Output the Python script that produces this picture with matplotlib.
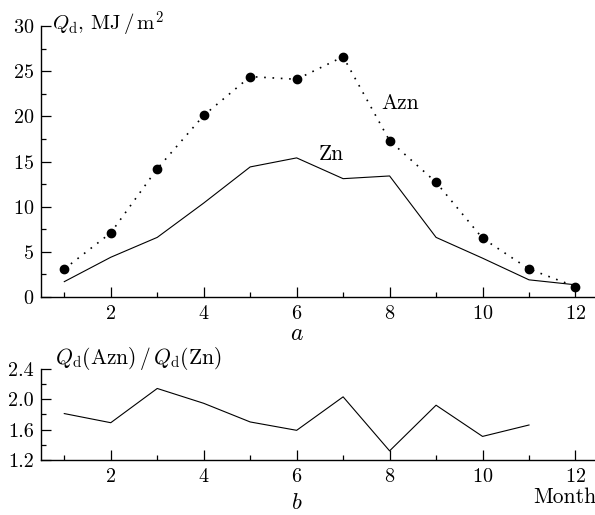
import numpy as np
import matplotlib
matplotlib.use('Agg')
import matplotlib.pyplot as plt
from matplotlib.ticker import MultipleLocator

plt.rcParams['font.family'] = 'serif'
plt.rcParams['font.serif'] = ['cmr10']
plt.rcParams['mathtext.fontset'] = 'cm'
plt.rcParams['axes.formatter.use_mathtext'] = True

# Data
months = np.arange(1, 13)
q_azn = [3.1, 7.1, 14.2, 20.1, 24.4, 24.1, 26.6, 17.3, 12.7, 6.5, 3.1, 1.15]
q_zn = [1.7, 4.4, 6.6, 10.4, 14.4, 15.4, 13.1, 13.4, 6.6, 4.3, 1.9, 1.35]
ratio_months = np.arange(1, 12)
ratio = [1.81, 1.69, 2.14, 1.945, 1.70, 1.59, 2.03, 1.32, 1.92, 1.51, 1.66]

fig = plt.figure(figsize=(5.95, 5.15), dpi=100)
ax1 = fig.add_axes([0.069, 0.4233, 0.931, 0.5262])
ax2 = fig.add_axes([0.069, 0.1068, 0.931, 0.1773])


def style(ax):
    for s in ('top', 'right'):
        ax.spines[s].set_visible(False)
    for s in ('left', 'bottom'):
        ax.spines[s].set_linewidth(1.0)
    ax.set_xlim(0.5, 12.42)
    ax.xaxis.set_major_locator(MultipleLocator(2))
    ax.xaxis.set_minor_locator(MultipleLocator(1))
    ax.tick_params(which='both', direction='in', labelsize=14.5, width=0.9)
    ax.tick_params(which='major', length=7)
    ax.tick_params(which='minor', length=3.6)
    ax.tick_params(axis='x', pad=6)
    ax.tick_params(axis='y', pad=5)


# panel a
style(ax1)
ax1.plot(months, q_zn, color='black', lw=0.8)
ax1.plot(months, q_azn, color='black', lw=1.2, ls=(0, (1, 4)),
         marker='o', ms=6, clip_on=False)
ax1.set_ylim(0, 30)
ax1.yaxis.set_major_locator(MultipleLocator(5))
ax1.yaxis.set_minor_locator(MultipleLocator(2.5))
ax1.text(7.82, 21.5, 'Azn', fontsize=15.5, va='center', ha='left')
ax1.text(6.47, 15.8, 'Zn', fontsize=15.5, va='center', ha='left')
ax1.text(0.74, 30.2, r'$Q_\mathrm{d}$, MJ$\,/\,$m$^2$', fontsize=15, va='center', ha='left')
ax1.text(6.0, -4.1, r'$a$', fontsize=17, va='center', ha='center')

# panel b
style(ax2)
ax2.plot(ratio_months, ratio, color='black', lw=0.8)
ax2.set_ylim(1.2, 2.4)
ax2.yaxis.set_major_locator(MultipleLocator(0.4))
ax2.yaxis.set_minor_locator(MultipleLocator(0.2))
ax2.yaxis.set_major_formatter(matplotlib.ticker.FormatStrFormatter('%.1f'))
ax2.text(0.8, 2.54, r'$Q_\mathrm{d}$(Azn)$\,/\,Q_\mathrm{d}$(Zn)', fontsize=15.5,
         va='center', ha='left')
ax2.text(12.45, 0.71, 'Month', fontsize=15.5, va='center', ha='right')
ax2.text(6.0, 0.63, r'$b$', fontsize=16.5, va='center', ha='center')

fig.savefig('out.png', dpi=100)
